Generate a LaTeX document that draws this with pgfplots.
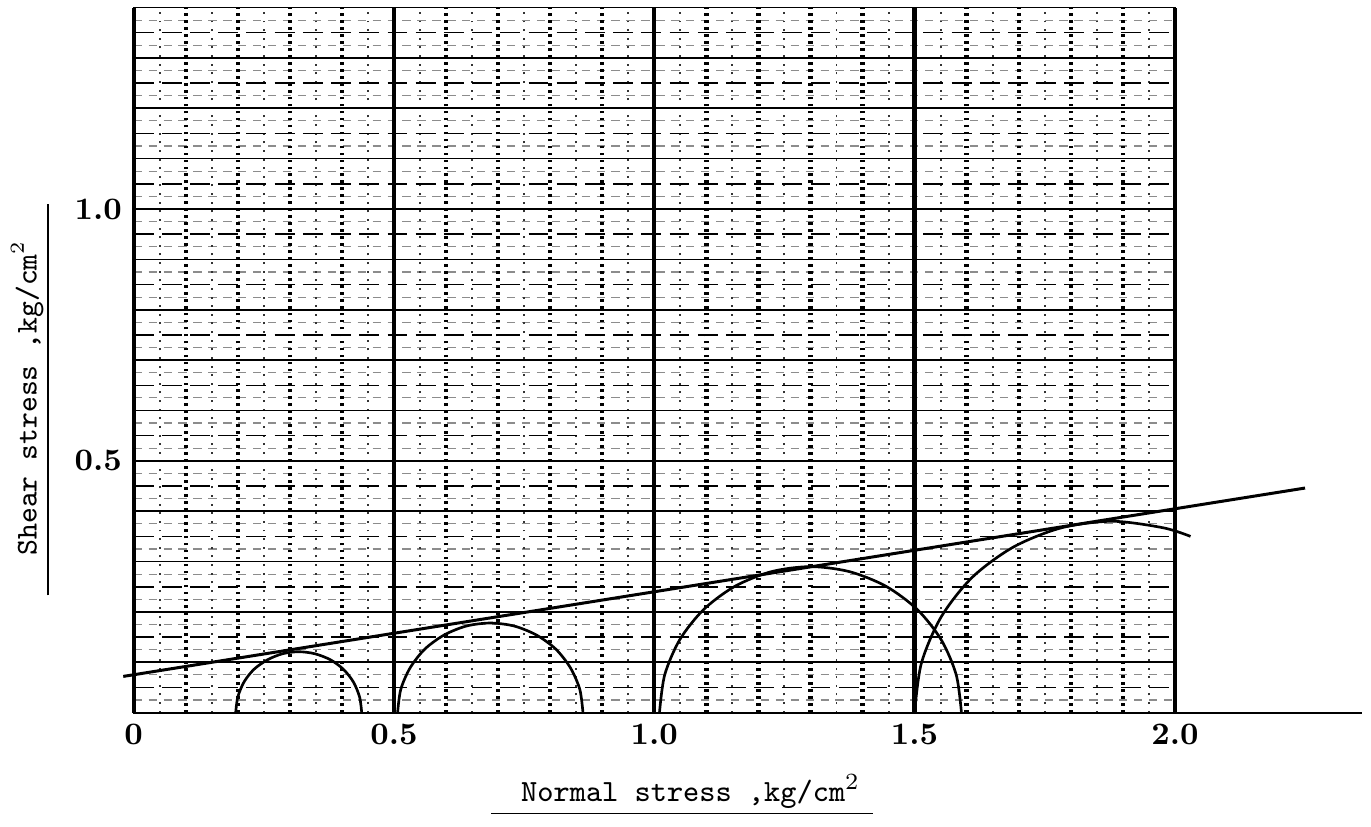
\documentclass[border=0pt]{standalone}
\usepackage{pgfplots}
\pgfplotsset{compat=1.18}
\begin{document}
\begin{tikzpicture}
% paper texture: faint broken lines between the printed rulings
\begin{axis}[
  scale only axis, width=313.8pt, height=212.5pt,
  xmin=0, xmax=2, ymin=0, ymax=1.4,
  axis line style={draw=none},
  xtick=\empty,
  ytick={0.025,0.075,...,1.38}, yticklabels={},
  major tick length=0pt,
  ymajorgrids,
  major y grid style={black!45, line width=0.35pt, dash pattern=on 2.5pt off 2pt},
]
\end{axis}
\begin{axis}[
  scale only axis, width=313.8pt, height=212.5pt,
  xmin=0, xmax=2, ymin=0, ymax=1.4,
  clip=false,
  axis line style={black, line width=0.5pt},
  major tick length=0pt, minor tick length=0pt,
  xtick={0,0.5,1,1.5,2},
  xticklabels={0,0.5,1.0,1.5,2.0},
  ytick={0.5,1.0},
  yticklabels={0.5,1.0},
  tick label style={font=\fontsize{9.4}{11}\selectfont\bfseries},
  xmajorgrids, ymajorgrids, xminorgrids, yminorgrids,
  major x grid style={black, line width=1.3pt},
  major y grid style={black, line width=0.5pt},
  minor xtick={0.05,0.15,0.25,0.35,0.45,0.55,0.65,0.75,0.85,0.95,1.05,1.15,1.25,1.35,1.45,1.55,1.65,1.75,1.85,1.95},
  minor x grid style={black!80, line width=0.6pt, dash pattern=on 0.6pt off 2pt},
  minor ytick={0.05,0.15,0.25,0.35,0.45,0.55,0.65,0.75,0.85,0.95,1.05,1.15,1.25,1.35},
  minor y grid style={black, line width=0.45pt, dash pattern=on 6pt off 2.5pt},
  extra x ticks={0.1,0.2,0.3,0.4,0.6,0.7,0.8,0.9,1.1,1.2,1.3,1.4,1.6,1.7,1.8,1.9},
  extra x tick labels={},
  extra x tick style={grid=major, major grid style={black, line width=0.9pt, dash pattern=on 0.8pt off 1.3pt}},
  extra y ticks={0.1,0.2,0.3,0.4,0.6,0.7,0.8,0.9,1.1,1.2,1.3},
  extra y tick labels={},
  extra y tick style={grid=major, major grid style={black, line width=0.5pt}},
  xlabel={\underline{\hspace{9pt}Normal stress ,kg/cm$^2$\hspace{4pt}}},
  xlabel style={font=\fontsize{9.3}{11}\selectfont\ttfamily, at={(rel axis cs:0.527,0)}, anchor=north, yshift=-15pt},
  ylabel={\underline{\hspace{12pt}Shear stress ,kg/cm$^2$\hspace{11pt}}},
  ylabel style={font=\fontsize{9.1}{11}\selectfont\ttfamily, at={(rel axis cs:-0.069,0.444)}, anchor=south},
]
% frame of the sheet
\addplot[black, line width=1.3pt] coordinates {(0,0) (0,1.4)};
\addplot[black, line width=1.3pt] coordinates {(2,0) (2,1.4)};
\addplot[black, line width=0.5pt] coordinates {(2,0) (2.36,0)};
% failure envelope
\addplot[black, line width=0.9pt] coordinates {(-0.02,0.072) (2.25,0.446)};
% Mohr circles
\addplot[black, line width=0.8pt, smooth] coordinates {
  (0.438,0) (0.434,0.031) (0.422,0.061) (0.403,0.086) (0.378,0.105) (0.348,0.117) (0.317,0.121)
  (0.286,0.117) (0.257,0.105) (0.231,0.086) (0.212,0.061) (0.200,0.031) (0.196,0)};
\addplot[black, line width=0.8pt, smooth] coordinates {
  (0.863,0) (0.857,0.046) (0.839,0.089) (0.811,0.126) (0.774,0.154) (0.731,0.172) (0.685,0.178)
  (0.639,0.172) (0.596,0.154) (0.559,0.126) (0.531,0.089) (0.513,0.046) (0.507,0)};
\addplot[black, line width=0.8pt, smooth] coordinates {
  (1.590,0) (1.580,0.075) (1.551,0.145) (1.505,0.205) (1.445,0.251) (1.375,0.280) (1.300,0.290)
  (1.225,0.280) (1.155,0.251) (1.095,0.205) (1.049,0.145) (1.020,0.075) (1.010,0)};
\addplot[black, line width=0.8pt, smooth] coordinates {
  (2.03,0.350) (1.978,0.367) (1.880,0.380) (1.782,0.367) (1.690,0.329) (1.611,0.269)
  (1.551,0.190) (1.513,0.098) (1.500,0)};
% page extent
\path (axis cs:-0.2447,-0.1937) rectangle (axis cs:2.3767,1.415);
\end{axis}
\end{tikzpicture}
\end{document}
